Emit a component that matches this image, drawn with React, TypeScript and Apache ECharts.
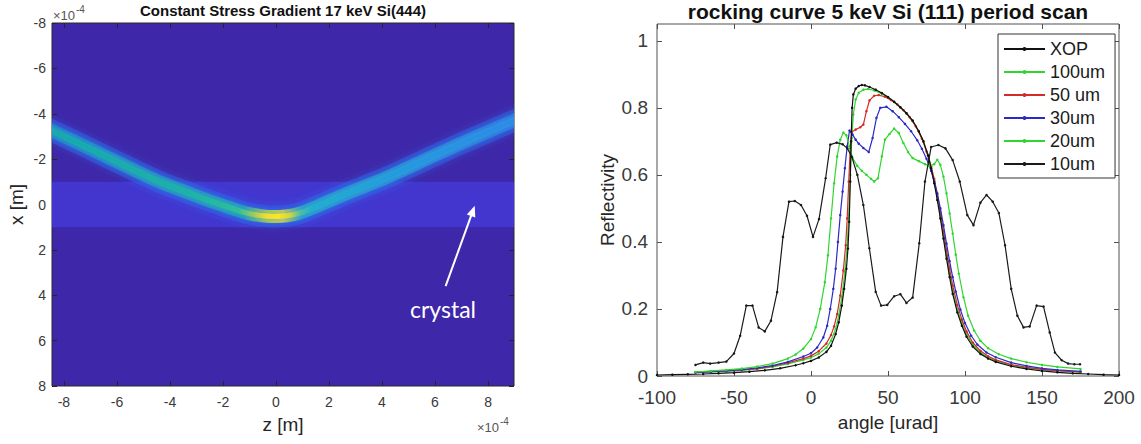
import React, { useEffect, useRef } from "react";
import * as echarts from "echarts";

const FONT = "'Liberation Sans', Arial, Helvetica, sans-serif";

// ---------- left panel (beam map) ----------
const leftTitle = "Constant Stress Gradient 17 keV Si(444)";
const zRange = [-8.45, 8.98];
const xRange = [-8, 8];
const zTicks = [-8, -6, -4, -2, 0, 2, 4, 6, 8];
const xTicks = [-8, -6, -4, -2, 0, 2, 4, 6, 8];
const crystalBand = [-1, 1];
const beamZ = [-9.0, -8.45, -7, -5.5, -4.4, -3.5, -2.6, -1.8, -1.1, -0.5, -0.1, 0.4, 0.9, 1.6, 2.5, 3.4, 4.2, 5.5, 7, 8.98, 9.5];
const beamX = [-3.55, -3.25, -2.45, -1.6, -1.0, -0.6, -0.2, 0.12, 0.38, 0.5, 0.53, 0.5, 0.38, 0.05, -0.4, -0.82, -1.2, -1.9, -2.7, -3.7, -3.97];
const arrowFrom = [6.4, 3.6];
const arrowTo = [7.5, 0.05];

// ---------- right panel (rocking curves) ----------
const rightTitle = "rocking curve 5 keV Si (111) period scan";
const angleTicks = [-100, -50, 0, 50, 100, 150, 200];
const reflTicks = [0, 0.2, 0.4, 0.6, 0.8, 1];
const seriesNames = ["XOP", "100um", "50 um", "30um", "20um", "10um"];
const seriesColors = ["#111111", "#2fd62f", "#d42a2a", "#2a2ac8", "#2fd62f", "#1a1a1a"];

const xop: number[][] = [
  [-100, 0.003], [-90, 0.004], [-80, 0.005], [-70, 0.006], [-60, 0.008], [-50, 0.01], [-40, 0.013], [-30, 0.017],
  [-20, 0.023], [-10, 0.032], [-5, 0.038], [0, 0.045], [5, 0.055], [10, 0.072], [13, 0.09], [16, 0.125], [18, 0.16],
  [20, 0.21], [21.5, 0.26], [23, 0.32], [24, 0.38], [24.8, 0.46], [25.5, 0.58], [26, 0.7], [26.7, 0.8], [27.5, 0.84],
  [29, 0.857], [31, 0.865], [33, 0.868], [35, 0.867], [38, 0.862], [42, 0.854], [46, 0.844], [50, 0.832], [54, 0.818],
  [58, 0.802], [62, 0.784], [66, 0.762], [70, 0.73], [73, 0.7], [76, 0.658], [78, 0.62], [80, 0.575], [82, 0.525],
  [84, 0.47], [86, 0.41], [88, 0.35], [90, 0.295], [92, 0.245], [95, 0.19], [98, 0.15], [101, 0.117], [105, 0.088],
  [110, 0.066], [115, 0.052], [120, 0.042], [130, 0.029], [140, 0.021], [150, 0.015], [160, 0.011], [170, 0.008],
  [180, 0.006], [190, 0.004], [200, 0.003],
];
const um100: number[][] = [
  [-75, 0.01], [-65, 0.012], [-55, 0.014], [-45, 0.017], [-35, 0.021], [-25, 0.027], [-15, 0.036], [-5, 0.048],
  [0, 0.055], [5, 0.066], [10, 0.085], [13, 0.105], [16, 0.14], [18, 0.18], [20, 0.235], [22, 0.31], [23.5, 0.39],
  [24.5, 0.48], [25.5, 0.6], [26.5, 0.71], [27.5, 0.78], [29, 0.825], [31, 0.845], [34, 0.854], [37, 0.856],
  [41, 0.852], [46, 0.842], [50, 0.831], [54, 0.817], [58, 0.801], [62, 0.783], [66, 0.761], [70, 0.73], [73, 0.7],
  [76, 0.66], [78, 0.625], [80, 0.582], [82, 0.533], [84, 0.478], [86, 0.42], [88, 0.36], [90, 0.305], [92, 0.255],
  [95, 0.198], [98, 0.157], [101, 0.124], [105, 0.094], [110, 0.07], [115, 0.055], [120, 0.045], [130, 0.032],
  [140, 0.024], [150, 0.019], [160, 0.015], [175, 0.011],
];
const um50: number[][] = [
  [-75, 0.011], [-65, 0.013], [-55, 0.015], [-45, 0.018], [-35, 0.022], [-25, 0.029], [-15, 0.039], [-5, 0.052],
  [0, 0.06], [5, 0.074], [10, 0.097], [13, 0.122], [15, 0.148], [17, 0.185], [19, 0.24], [21, 0.315], [22.5, 0.39],
  [23.5, 0.47], [24.5, 0.58], [25.5, 0.68], [26.5, 0.728], [29, 0.735], [32, 0.742], [34, 0.75], [36, 0.79],
  [38, 0.822], [41, 0.836], [44, 0.838], [48, 0.833], [52, 0.823], [56, 0.81], [60, 0.793], [64, 0.772], [68, 0.745],
  [72, 0.708], [75, 0.67], [78, 0.625], [80, 0.588], [82, 0.543], [84, 0.49], [86, 0.432], [88, 0.375], [90, 0.32],
  [92, 0.27], [95, 0.212], [98, 0.168], [101, 0.133], [105, 0.1], [110, 0.075], [115, 0.059], [120, 0.048],
  [130, 0.034], [140, 0.026], [150, 0.02], [160, 0.016], [175, 0.012],
];
const um30: number[][] = [
  [-75, 0.011], [-65, 0.013], [-55, 0.016], [-45, 0.019], [-35, 0.024], [-25, 0.031], [-15, 0.042], [-5, 0.058],
  [0, 0.068], [4, 0.085], [8, 0.115], [10.5, 0.15], [12.5, 0.2], [14.5, 0.26], [16, 0.32], [17.5, 0.4], [19, 0.48],
  [20.5, 0.55], [22, 0.62], [23.5, 0.685], [25, 0.732], [27, 0.72], [29, 0.705], [31, 0.693], [34, 0.68],
  [37.5, 0.668], [40, 0.71], [42.5, 0.77], [45, 0.8], [49, 0.803], [53, 0.79], [57, 0.772], [61, 0.752], [65, 0.73],
  [69, 0.703], [72, 0.678], [75, 0.648], [78, 0.612], [80, 0.58], [82, 0.545], [84, 0.5], [86, 0.45], [88, 0.395],
  [90, 0.343], [92, 0.295], [94, 0.252], [97, 0.198], [100, 0.158], [104, 0.12], [108, 0.094], [114, 0.07],
  [120, 0.056], [130, 0.04], [140, 0.03], [150, 0.023], [160, 0.018], [175, 0.014],
];
const um20: number[][] = [
  [-75, 0.012], [-65, 0.015], [-55, 0.018], [-45, 0.022], [-35, 0.028], [-25, 0.037], [-15, 0.052], [-10, 0.064],
  [-5, 0.082], [0, 0.11], [3, 0.145], [6, 0.2], [9, 0.28], [11, 0.36], [13, 0.47], [15, 0.575], [17, 0.655],
  [19, 0.705], [21, 0.726], [23, 0.718], [25, 0.685], [27, 0.65], [30, 0.627], [33, 0.612], [36, 0.6], [39, 0.588],
  [41, 0.58], [43.5, 0.59], [46, 0.655], [48, 0.705], [51, 0.722], [54, 0.738], [57, 0.725], [60, 0.695],
  [63, 0.668], [66, 0.65], [70, 0.641], [74, 0.632], [77, 0.626], [80, 0.632], [82, 0.645], [84, 0.63], [86, 0.595],
  [88, 0.545], [90, 0.485], [92, 0.425], [94, 0.362], [96, 0.305], [99, 0.235], [102, 0.18], [106, 0.135],
  [110, 0.105], [115, 0.083], [122, 0.065], [130, 0.052], [140, 0.041], [150, 0.033], [160, 0.027], [175, 0.021],
];
const um10: number[][] = [
  [-75, 0.033], [-70, 0.04], [-65.5, 0.037], [-60, 0.04], [-55, 0.043], [-50, 0.067], [-46, 0.12], [-42, 0.21],
  [-38, 0.21], [-34, 0.145], [-30, 0.133], [-26, 0.165], [-22, 0.25], [-18.2, 0.415], [-14.3, 0.52], [-10.5, 0.522],
  [-6.5, 0.51], [-2.6, 0.478], [1.3, 0.415], [5.2, 0.468], [9.5, 0.59], [12.5, 0.69], [16.7, 0.696], [20.6, 0.691],
  [23.6, 0.679], [26.5, 0.654], [30.1, 0.6], [34, 0.51], [37.9, 0.381], [42, 0.251], [45.5, 0.21], [49.5, 0.212],
  [54, 0.238], [58, 0.244], [62, 0.218], [66, 0.234], [70.3, 0.396], [74, 0.58], [78, 0.683], [82.7, 0.689],
  [87.3, 0.679], [92, 0.644], [96.6, 0.58], [101.5, 0.48], [105.5, 0.45], [110, 0.517], [114, 0.54], [118, 0.52],
  [122, 0.486], [126, 0.39], [130, 0.26], [134, 0.18], [138, 0.145], [142, 0.148], [146.5, 0.21], [151, 0.207],
  [155, 0.13], [158.4, 0.07], [162.8, 0.047], [167, 0.037], [171, 0.035], [174.7, 0.035],
];
const curves = [xop, um100, um50, um30, um20, um10];

export default function App() {
  const ref = useRef<HTMLDivElement>(null);
  useEffect(() => {
    if (!ref.current) return;
    const chart = echarts.init(ref.current, null, { renderer: "svg" });
    const beamData = beamZ.map((z, i) => [z, beamX[i]]);
    const grad = (stops: [number, string][]) =>
      new echarts.graphic.LinearGradient(0, 0, 1, 0, stops.map(([offset, color]) => ({ offset, color })));

    const tickLabel = { fontFamily: FONT, color: "#3a3a3a" };
    const nameStyle = { fontFamily: FONT, color: "#262626", fontSize: 19 };
    const noLine = { show: false, onZero: false };

    const renderBeam = (params: any, api: any) => {
      if (params.dataIndex !== 0) return null;
      const pts = beamData.map((p) => api.coord(p));
      const a = api.coord(arrowFrom);
      const b = api.coord(arrowTo);
      const dx = b[0] - a[0];
      const dy = b[1] - a[1];
      const len = Math.sqrt(dx * dx + dy * dy) || 1;
      const ux = dx / len, uy = dy / len;
      const nx = -uy, ny = ux;
      const headL = 11, headW = 4.5;
      const base = [b[0] - ux * headL, b[1] - uy * headL];
      return {
        type: "group",
        children: [
          {
            type: "polyline",
            shape: { points: pts, smooth: 0.4 },
            style: { fill: "none", stroke: "rgba(52,96,228,0.5)", lineWidth: 22, shadowBlur: 8, shadowColor: "rgba(50,110,240,0.7)" },
          },
          {
            type: "polyline",
            shape: { points: pts, smooth: 0.4 },
            style: {
              fill: "none", lineWidth: 13, shadowBlur: 4, shadowColor: "rgba(40,140,230,0.6)",
              stroke: grad([[0, "rgba(30,140,200,0.9)"], [0.42, "rgba(35,160,185,0.9)"], [0.47, "rgba(170,200,80,0.95)"], [0.5, "rgba(200,205,70,0.95)"], [0.54, "rgba(40,160,205,0.9)"], [1, "rgba(45,125,230,0.9)"]]),
            },
          },
          {
            type: "polyline",
            shape: { points: pts, smooth: 0.4 },
            style: {
              fill: "none", lineWidth: 5, shadowBlur: 3, shadowColor: "rgba(60,200,200,0.6)",
              stroke: grad([[0, "#17a9ab"], [0.3, "#1bb2a6"], [0.41, "#2fbf98"], [0.44, "#9ccb58"], [0.465, "#f0dc30"], [0.49, "#fbe52a"], [0.515, "#d8d438"], [0.535, "#52c0a0"], [0.56, "#22aed0"], [0.75, "#2499e2"], [1, "#2f88ea"]]),
            },
          },
          {
            type: "line",
            shape: { x1: a[0], y1: a[1], x2: base[0] + ux * 2, y2: base[1] + uy * 2 },
            style: { stroke: "#ffffff", lineWidth: 2 },
          },
          {
            type: "polygon",
            shape: { points: [b, [base[0] + nx * headW, base[1] + ny * headW], [base[0] - nx * headW, base[1] - ny * headW]] },
            style: { fill: "#ffffff", stroke: "none" },
          },
        ],
      };
    };

    const option: any = {
      animation: false,
      backgroundColor: "#ffffff",
      grid: [
        { left: 52, top: 23, width: 462, height: 363, show: true, backgroundColor: "#3e27a8", borderColor: "#2a2a2a", borderWidth: 1 },
        { left: 657, top: 24, width: 462, height: 352, show: true, backgroundColor: "#ffffff", borderColor: "#505050", borderWidth: 1 },
      ],
      xAxis: [
        {
          gridIndex: 0, type: "value", min: zRange[0], max: zRange[1], position: "bottom",
          axisLine: noLine, splitLine: { show: false },
          axisTick: { inside: true, length: 5, customValues: zTicks, lineStyle: { color: "#262626" } },
          axisLabel: { ...tickLabel, fontSize: 14, margin: 9, customValues: zTicks },
          name: "z [m]", nameLocation: "middle", nameGap: 29, nameTextStyle: nameStyle,
        },
        {
          gridIndex: 0, type: "value", min: zRange[0], max: zRange[1], position: "top",
          axisLine: noLine, splitLine: { show: false },
          axisTick: { inside: true, length: 5, customValues: zTicks, lineStyle: { color: "#262626" } },
          axisLabel: { show: false },
        },
        {
          gridIndex: 1, type: "value", min: -100, max: 200, interval: 50, position: "bottom",
          axisLine: noLine, splitLine: { show: false },
          axisTick: { inside: true, length: 5, customValues: angleTicks, lineStyle: { color: "#505050" } },
          axisLabel: { ...tickLabel, fontSize: 19, margin: 12, customValues: angleTicks },
          name: "angle [urad]", nameLocation: "middle", nameGap: 37, nameTextStyle: nameStyle,
        },
        {
          gridIndex: 1, type: "value", min: -100, max: 200, interval: 50, position: "top",
          axisLine: noLine, splitLine: { show: false },
          axisTick: { inside: true, length: 5, customValues: angleTicks, lineStyle: { color: "#505050" } },
          axisLabel: { show: false },
        },
      ],
      yAxis: [
        {
          gridIndex: 0, type: "value", inverse: true, min: xRange[0], max: xRange[1], interval: 2, position: "left",
          axisLine: noLine, splitLine: { show: false },
          axisTick: { inside: true, length: 5, customValues: xTicks, lineStyle: { color: "#262626" } },
          axisLabel: { ...tickLabel, fontSize: 14, margin: 6, customValues: xTicks },
          name: "x [m]", nameLocation: "middle", nameGap: 26, nameTextStyle: nameStyle,
        },
        {
          gridIndex: 0, type: "value", inverse: true, min: xRange[0], max: xRange[1], interval: 2, position: "right",
          axisLine: noLine, splitLine: { show: false },
          axisTick: { inside: true, length: 5, customValues: xTicks, lineStyle: { color: "#262626" } },
          axisLabel: { show: false },
        },
        {
          gridIndex: 1, type: "value", min: 0, max: 1.05, interval: 0.2, position: "left",
          axisLine: noLine, splitLine: { show: false },
          axisTick: { inside: true, length: 5, customValues: reflTicks, lineStyle: { color: "#505050" } },
          axisLabel: { ...tickLabel, fontSize: 19, margin: 9, customValues: reflTicks },
          name: "Reflectivity", nameLocation: "middle", nameGap: 40, nameTextStyle: nameStyle,
        },
        {
          gridIndex: 1, type: "value", min: 0, max: 1.05, interval: 0.2, position: "right",
          axisLine: noLine, splitLine: { show: false },
          axisTick: { inside: true, length: 5, customValues: reflTicks, lineStyle: { color: "#505050" } },
          axisLabel: { show: false },
        },
      ],
      legend: {
        data: seriesNames,
        orient: "vertical",
        left: 998,
        top: 34,
        itemWidth: 41,
        itemHeight: 5,
        itemGap: 5,
        padding: [6, 10, 5, 5],
        borderColor: "#333333",
        borderWidth: 1,
        backgroundColor: "#ffffff",
        textStyle: { fontFamily: FONT, fontSize: 18, color: "#1a1a1a" },
      },
      graphic: [
        { type: "text", x: 283, y: 10, style: { text: leftTitle, font: `bold 15px ${FONT}`, fill: "#111", textAlign: "center", textVerticalAlign: "middle" } },
        { type: "text", x: 888, y: 11, style: { text: rightTitle, font: `bold 21px ${FONT}`, fill: "#111", textAlign: "center", textVerticalAlign: "middle" } },
        { type: "text", x: 53, y: 15, style: { text: "×10", font: `13px ${FONT}`, fill: "#555", textAlign: "left", textVerticalAlign: "middle" } },
        { type: "text", x: 76, y: 9, style: { text: "-4", font: `10px ${FONT}`, fill: "#555", textAlign: "left", textVerticalAlign: "middle" } },
        { type: "text", x: 477, y: 427, style: { text: "×10", font: `13px ${FONT}`, fill: "#555", textAlign: "left", textVerticalAlign: "middle" } },
        { type: "text", x: 500, y: 421, style: { text: "-4", font: `10px ${FONT}`, fill: "#555", textAlign: "left", textVerticalAlign: "middle" } },
        { type: "text", x: 443, y: 309, z: 100, style: { text: "crystal", font: `23px Lato, 'Open Sans', sans-serif`, fill: "#ffffff", textAlign: "center", textVerticalAlign: "middle" } },
      ],
      series: [
        {
          type: "line", name: "crystal band", xAxisIndex: 0, yAxisIndex: 0, data: [], silent: true, z: 1,
          markArea: { silent: true, itemStyle: { color: "#4236cf" }, data: [[{ yAxis: crystalBand[0] }, { yAxis: crystalBand[1] }]] },
        },
        {
          type: "custom", name: "beam", xAxisIndex: 0, yAxisIndex: 0, data: beamData, clip: true, silent: true, z: 3,
          renderItem: renderBeam,
        },
        ...curves.map((d, i) => ({
          type: "line",
          name: seriesNames[i],
          xAxisIndex: 2,
          yAxisIndex: 2,
          data: d,
          z: 10 + (i === 0 ? 6 : i),
          symbol: "circle",
          symbolSize: 2.5,
          showSymbol: true,
          color: seriesColors[i],
          lineStyle: { width: 1.2, color: seriesColors[i] },
          itemStyle: { color: seriesColors[i] },
          clip: true,
        })),
      ],
    };
    chart.setOption(option);
    return () => chart.dispose();
  }, []);
  return <div ref={ref} style={{ position: "fixed", left: 0, top: 0, width: 1141, height: 444, background: "#fff" }} />;
}
